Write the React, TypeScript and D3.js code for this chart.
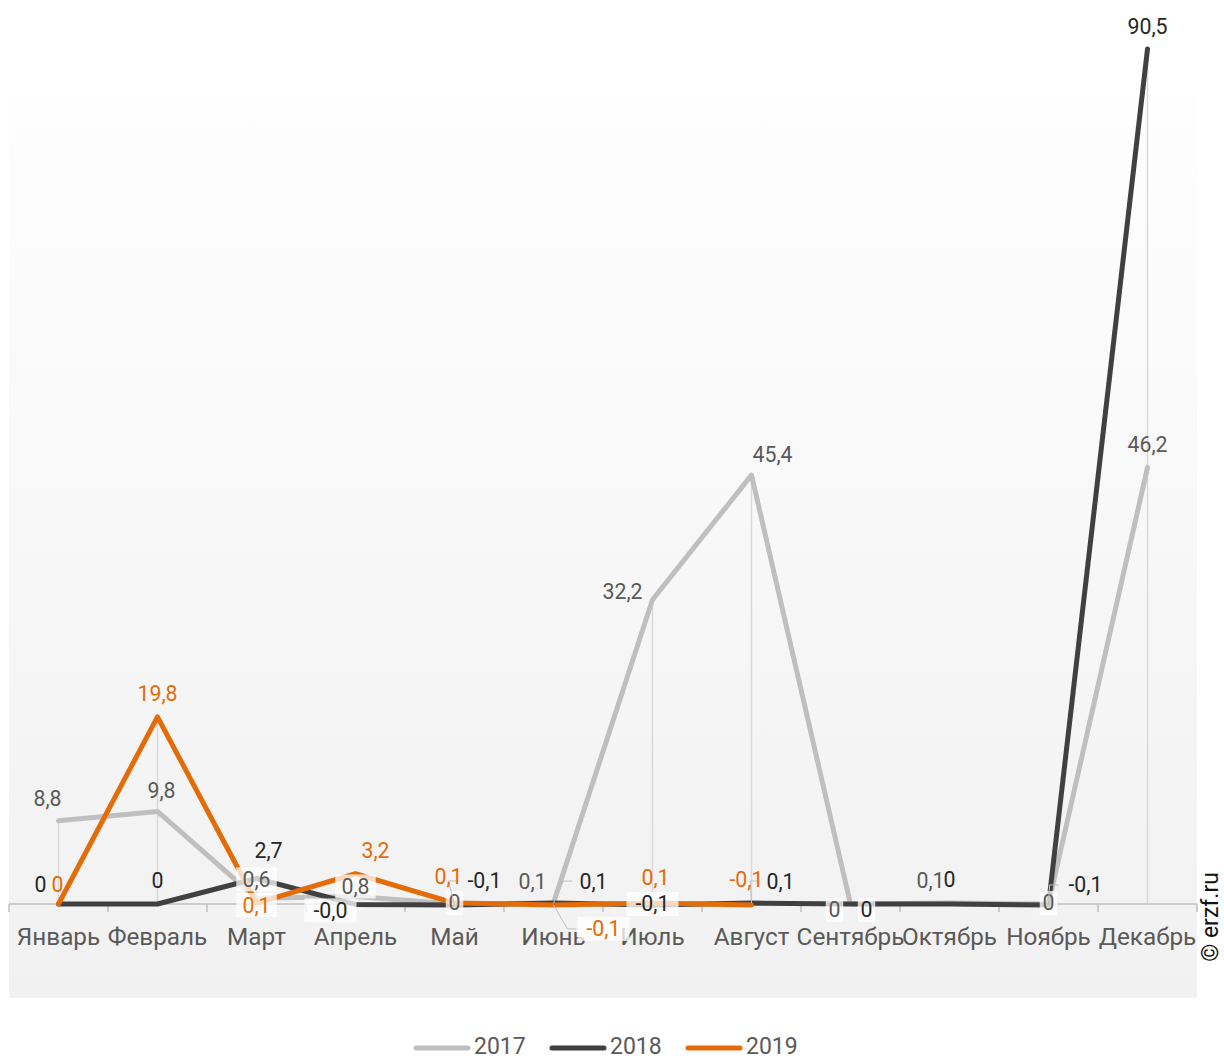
import React from "react";
import * as d3 from "d3";

const months = ["Январь","Февраль","Март","Апрель","Май","Июнь","Июль","Август","Сентябрь","Октябрь","Ноябрь","Декабрь"];
const values2017: (number|null)[] = [8.8, 9.8, 0.6, 0.8, 0, 0.1, 32.2, 45.4, 0, 0.1, 0, 46.2];
const values2018: (number|null)[] = [0, 0, 2.7, -0.04, -0.1, 0.1, -0.1, 0.1, 0, 0, -0.1, 90.5];
const values2019: (number|null)[] = [0, 19.8, 0.1, 3.2, 0.1, -0.1, 0.1, -0.1, null, null, null, null];
const seriesNames = ["2017", "2018", "2019"];

const colors = ["#bfbfbf", "#404040", "#e36c09"];
const labelColors = ["#595959", "#262626", "#e36c09"];

// label layout: [dx, dy, box, leader]
type L = [number, number, boolean?, boolean?];
const labelLayout: L[][] = [
  [[-11,-22],[4,-21],[0,-19,true],[0,-10,true],[0,-1,true],[-21,-22],[-30,-8],[21,-21],[-16,6,true],[-19,-23],[0,-1,true],[0,-23]],
  [[-18,-19],[0,-23],[12,-28],[-25,6,true],[30,-24,false,true],[40,-22,false,true],[0,-1,true],[29,-22,false,true],[16,6,true],[0,-24],[37,-20,false,true],[0,-22]],
  [[-1,-19],[0,-23],[0,2,true],[20,-23],[-6,-27],[50,24,true,true],[3,-26],[-5,-25]],
];

const W = 1224, H = 1061;
const plotLeft = 9, plotRight = 1197;

function fmt(v: number) {
  if (v === 0) return "0";
  return v.toFixed(1).replace(".", ",");
}

export default function App() {
  const x = d3.scaleBand<string>().domain(months).range([plotLeft, plotRight]).paddingInner(0).paddingOuter(0);
  const y = d3.scaleLinear().domain([0, 90.5]).range([904, 49]);
  const cx = (i: number) => (x(months[i]) as number) + x.bandwidth() / 2;
  const all = [values2017, values2018, values2019];
  const line = d3.line<number|null>()
    .defined(d => d !== null)
    .x((_, i) => cx(i))
    .y(d => y(d as number));

  const dropLines = months.map((m, i) => {
    const vals = all.map(s => s[i]).filter(v => v !== null) as number[];
    const mx = d3.max(vals) as number;
    return { i, mx };
  });

  const font = "Roboto, 'Noto Sans', sans-serif";

  return (
    <svg width={W} height={H} style={{ position: "absolute", left: 0, top: 0, display: "block" }} fontFamily={font}>
      <defs>
        <linearGradient id="bg" x1="0" y1="0" x2="0" y2="1">
          <stop offset="0" stopColor="#fefefe" />
          <stop offset="1" stopColor="#f1f1f1" />
        </linearGradient>
      </defs>
      <rect x={0} y={0} width={W} height={H} fill="#fff" />
      <rect x={plotLeft} y={95} width={plotRight - plotLeft} height={998 - 95} fill="url(#bg)" />
      {/* drop lines */}
      {dropLines.map(d => d.mx > 0 ? (
        <line key={"dl" + d.i} x1={cx(d.i)} x2={cx(d.i)} y1={y(0)} y2={y(d.mx)} stroke="#d9d9d9" strokeWidth={1.5} />
      ) : null)}
      {/* axis */}
      <line x1={plotLeft} x2={plotRight} y1={y(0)} y2={y(0)} stroke="#bfbfbf" strokeWidth={1.5} />
      {d3.range(months.length + 1).map(k => {
        const xx = plotLeft + k * x.bandwidth();
        return <line key={"t" + k} x1={xx} x2={xx} y1={y(0)} y2={y(0) + 8} stroke="#bfbfbf" strokeWidth={1.5} />;
      })}
      {months.map((m, i) => (
        <text key={m} x={cx(i)} y={945} textAnchor="middle" fontSize={24.3} fill="#595959">{m}</text>
      ))}
      {/* lines */}
      {all.map((s, k) => (
        <path key={"l" + k} d={line(s) as string} fill="none" stroke={colors[k]} strokeWidth={5} strokeLinejoin="round" strokeLinecap="round" />
      ))}
      {/* labels */}
      {all.map((s, k) => s.map((v, i) => {
        if (v === null) return null;
        const lay = labelLayout[k][i];
        if (!lay) return null;
        const [dx, dy, box, leader] = lay;
        const px = cx(i), py = y(v);
        const tx = px + dx, ty = py + dy;
        const txt = fmt(v);
        const w = txt.length * 11.5 + 6;
        return (
          <g key={`lb${k}-${i}`}>
            {leader ? (
              <polyline points={`${px},${py} ${tx - (dx > 0 ? w / 2 + 10 : -w/2 - 10)},${ty} ${tx - (dx > 0 ? w / 2 + 1 : -w/2 - 1)},${ty}`} fill="none" stroke="#bfbfbf" strokeWidth={1} />
            ) : null}
            {box ? <rect x={tx - w / 2} y={ty - 12} width={w} height={24} fill="#ffffff" fillOpacity={0.75} /> : null}
            <text x={tx} y={ty} dy="0.35em" textAnchor="middle" fontSize={21.3} fill={labelColors[k]}>{txt}</text>
          </g>
        );
      }))}
      {/* legend */}
      {seriesNames.map((n, k) => {
        const lx = 414 + k * 136;
        return (
          <g key={"lg" + n}>
            <line x1={lx + 2} x2={lx + 54} y1={1048} y2={1048} stroke={colors[k]} strokeWidth={5} strokeLinecap="round" />
            <text x={lx + 60} y={1054} fontSize={23} fill="#595959">{n}</text>
          </g>
        );
      })}
      <text transform={`translate(1218,917) rotate(-90)`} textAnchor="middle" fontSize={23} fill="#111">© erzf.ru</text>
    </svg>
  );
}
